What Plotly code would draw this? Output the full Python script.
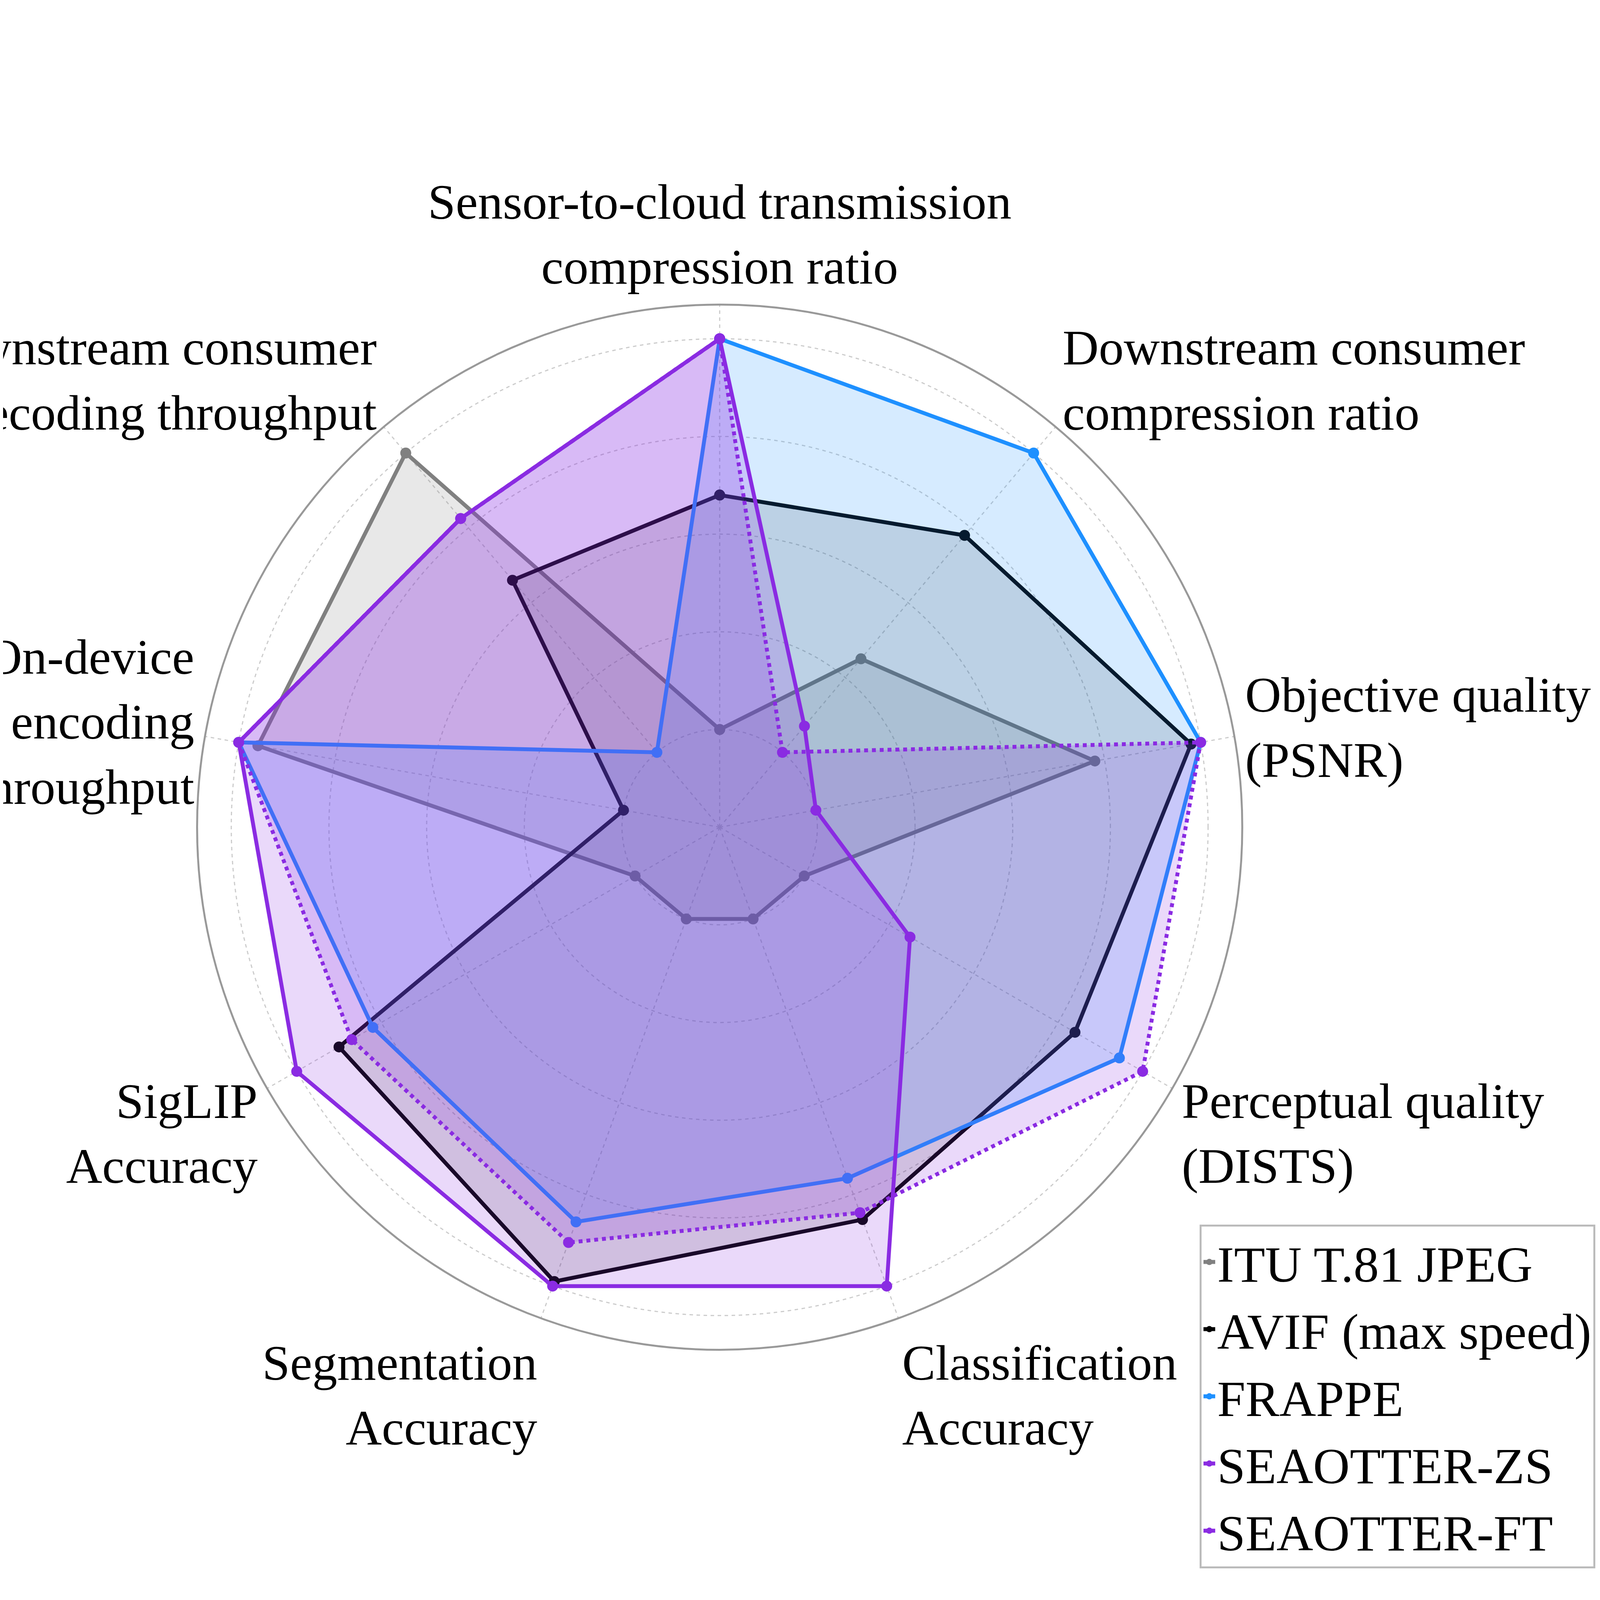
import plotly.graph_objects as go

axes = [
    "Sensor-to-cloud transmission<br>compression ratio",
    "Downstream consumer<br>compression ratio",
    "Objective quality<br>(PSNR)",
    "Perceptual quality<br>(DISTS)",
    "Classification<br>Accuracy",
    "Segmentation<br>Accuracy",
    "SigLIP<br>Accuracy",
    "On-device<br>encoding<br>throughput",
    "Downstream consumer<br>decoding throughput",
]

jpeg = [0.2, 0.45, 0.78, 0.2, 0.2, 0.2, 0.2, 0.96, 1.0]
avif = [0.68, 0.78, 0.98, 0.84, 0.855, 0.99, 0.9, 0.2, 0.66]
frappe = [1.0, 1.0, 1.0, 0.945, 0.765, 0.86, 0.82, 1.0, 0.2]
seaotter_zs = [1.0, 0.2, 1.0, 1.0, 0.84, 0.905, 0.87, 1.0, 0.825]
seaotter_ft = [1.0, 0.27, 0.2, 0.45, 1.0, 1.0, 1.0, 1.0, 0.825]

series = [
    ("ITU T.81 JPEG", jpeg, "#808080", "rgba(128,128,128,0.18)", "solid"),
    ("AVIF (max speed)", avif, "#000000", "rgba(0,0,0,0.12)", "solid"),
    ("FRAPPE", frappe, "#1E90FF", "rgba(30,144,255,0.18)", "solid"),
    ("SEAOTTER-ZS", seaotter_zs, "#8A2BE2", "rgba(138,43,226,0.18)", "dot"),
    ("SEAOTTER-FT", seaotter_ft, "#8A2BE2", "rgba(138,43,226,0.18)", "solid"),
]

fig = go.Figure()
for name, vals, color, fillc, dash in series:
    fig.add_trace(go.Scatterpolar(
        r=vals + vals[:1],
        theta=axes + axes[:1],
        name=name,
        mode="lines+markers",
        fill="toself",
        fillcolor=fillc,
        line=dict(color=color, width=10, dash=dash),
        marker=dict(size=28, color=color),
    ))

font = "Liberation Serif"
fig.update_layout(
    autosize=True,
    margin=dict(l=0, r=0, t=0, b=0),
    paper_bgcolor="white",
    font=dict(family=font, size=128, color="black"),
    polar=dict(
        domain=dict(x=[0.1217, 0.7775], y=[0.0472, 0.9187]),
        bgcolor="white",
        radialaxis=dict(range=[0, 1.07], tickvals=[0.2, 0.4, 0.6, 0.8, 1.0],
                        showticklabels=False, ticks="", showline=False,
                        gridcolor="#cccccc", griddash="dash", gridwidth=3),
        angularaxis=dict(rotation=90, direction="clockwise",
                         showline=True, linecolor="#999999", linewidth=5,
                         gridcolor="#cccccc", griddash="dash", gridwidth=3,
                         ticks="", tickfont=dict(size=128, family=font)),
    ),
    legend=dict(x=0.999, y=0.018, xanchor="right", yanchor="bottom",
                bordercolor="#bbbbbb", borderwidth=5, bgcolor="white",
                font=dict(size=130, family=font), itemwidth=30),
)

fig.write_html("out.html")
